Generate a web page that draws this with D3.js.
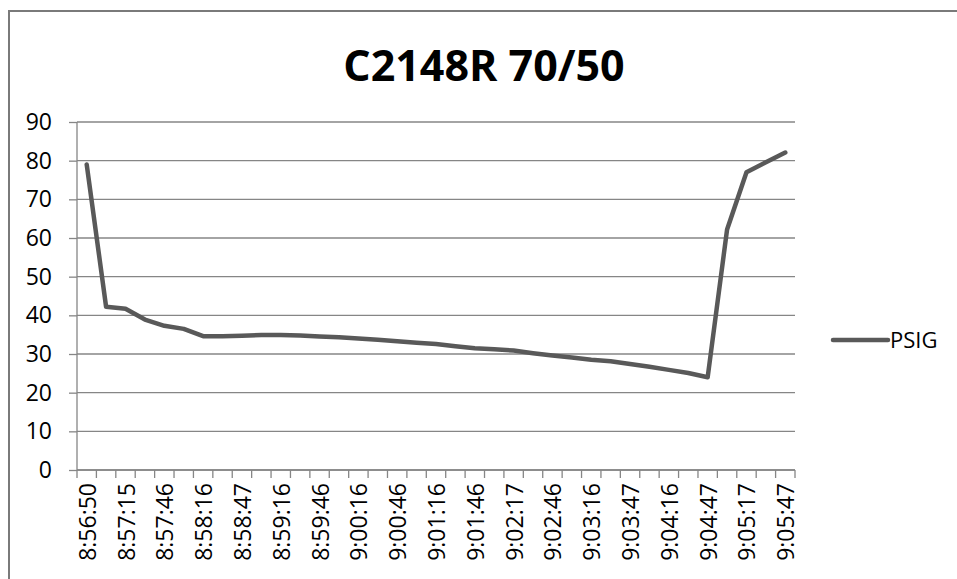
<!DOCTYPE html>
<meta charset="utf-8">
<style>
body { margin: 0; background: #fff; }
svg text { font-family: "Open Sans", "Liberation Sans", sans-serif; fill: #000; }
.grid line { stroke: #868686; stroke-width: 1.3px; }
.axis path, .axis line { stroke: #868686; stroke-width: 1.3px; }
.axis text { font-size: 23px; }
</style>
<svg width="957" height="579"></svg>
<script src="https://d3js.org/d3.v7.min.js"></script>
<script>

var times = ["8:56:50", "8:57:01", "8:57:15", "8:57:31", "8:57:46", "8:58:01", "8:58:16", "8:58:31",
  "8:58:47", "8:59:01", "8:59:16", "8:59:31", "8:59:46", "9:00:01", "9:00:16", "9:00:31",
  "9:00:46", "9:01:01", "9:01:16", "9:01:31", "9:01:46", "9:02:01", "9:02:17", "9:02:31",
  "9:02:46", "9:03:01", "9:03:16", "9:03:31", "9:03:47", "9:04:01", "9:04:16", "9:04:31",
  "9:04:47", "9:05:01", "9:05:17", "9:05:31", "9:05:47"];

var psig = [79, 42.2, 41.7, 38.9, 37.3, 36.5, 34.6, 34.6, 34.7, 34.9, 34.9, 34.8,
  34.5, 34.3, 34.0, 33.7, 33.3, 32.9, 32.6, 32.0, 31.5, 31.2, 30.9, 30.2,
  29.6, 29.1, 28.5, 28.1, 27.4, 26.7, 25.9, 25.1, 24.0, 62.2, 77.0, 79.6, 82.1];

var yTicks = [0, 10, 20, 30, 40, 50, 60, 70, 80, 90];

var svg = d3.select("svg");
var margin = {left: 77, right: 162, top: 122, bottom: 109};
var width = 957 - margin.left - margin.right,
    height = 579 - margin.top - margin.bottom;

// chart frame
svg.append("path")
    .attr("d", "M9,579V11H957")
    .attr("fill", "none")
    .attr("stroke", "#7a7a7a")
    .attr("stroke-width", 2);

svg.append("text")
    .attr("x", 484)
    .attr("y", 81)
    .attr("text-anchor", "middle")
    .attr("font-size", "43px")
    .attr("font-weight", "bold")
    .text("C2148R 70/50");

var g = svg.append("g").attr("transform", "translate(" + margin.left + "," + margin.top + ")");

var x = d3.scaleBand().domain(times).range([0, width]);
var y = d3.scaleLinear().domain([0, 90]).range([height, 0]);

g.append("g")
    .attr("class", "grid")
    .selectAll("line")
    .data(yTicks)
    .enter().append("line")
    .attr("x1", 0)
    .attr("x2", width)
    .attr("y1", function(d) { return y(d); })
    .attr("y2", function(d) { return y(d); });

g.append("g")
    .attr("class", "axis")
    .call(d3.axisLeft(y).tickValues(yTicks).tickSize(8).tickPadding(17))
    .call(function(a) { a.select(".domain").attr("d", "M0,0V" + height); });

// x axis: ticks between categories, labels on every other category
var xa = g.append("g")
    .attr("class", "axis")
    .attr("transform", "translate(0," + height + ")");
xa.append("line").attr("x1", 0).attr("x2", width);
xa.selectAll(".tk")
    .data(times.concat(["end"]))
    .enter().append("line")
    .attr("class", "tk")
    .attr("x1", function(d, i) { return i * x.step(); })
    .attr("x2", function(d, i) { return i * x.step(); })
    .attr("y1", 0)
    .attr("y2", 8);
xa.selectAll("text")
    .data(times.filter(function(d, i) { return i % 2 === 0; }))
    .enter().append("text")
    .attr("transform", function(d) {
      return "translate(" + (x(d) + x.bandwidth() / 2 + 9) + ",13) rotate(-90)";
    })
    .attr("text-anchor", "end")
    .text(function(d) { return d; });

var line = d3.line()
    .x(function(d, i) { return x(times[i]) + x.bandwidth() / 2; })
    .y(function(d) { return y(d); });

g.append("path")
    .datum(psig)
    .attr("fill", "none")
    .attr("stroke", "#595959")
    .attr("stroke-width", 4.5)
    .attr("stroke-linejoin", "round")
    .attr("stroke-linecap", "round")
    .attr("d", line);

// legend
var lg = svg.append("g").attr("transform", "translate(833,340)");
lg.append("line")
    .attr("x1", 0).attr("x2", 55)
    .attr("stroke", "#595959")
    .attr("stroke-width", 4.5)
    .attr("stroke-linecap", "round");
lg.append("text")
    .attr("x", 57)
    .attr("y", 8)
    .attr("font-size", "22px")
    .text("PSIG");

</script>
